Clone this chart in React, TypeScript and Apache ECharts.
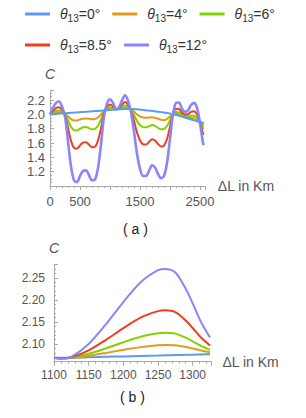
import React, { useEffect, useRef } from "react";
import * as echarts from "echarts";

const seriesNames = ["θ13=0°", "θ13=4°", "θ13=6°", "θ13=8.5°", "θ13=12°"];
const seriesColors = ["#5b9cf0", "#e39a1a", "#7fd400", "#f23c1e", "#8b84fa"];

// panel (a): ΔL in km
const distA = [0, 50, 100, 150, 200, 250, 300, 350, 400, 450, 500, 550, 600, 650, 700, 750, 800, 850, 900, 950, 1000, 1050, 1100, 1150, 1200, 1250, 1300, 1350, 1400, 1450, 1500, 1550, 1600, 1650, 1700, 1750, 1800, 1850, 1900, 1950, 2000, 2050, 2100, 2150, 2200, 2250, 2300, 2350, 2400, 2450, 2500, 2550, 2565];
const blueA = [2.0, 2.003, 2.006, 2.009, 2.012, 2.015, 2.018, 2.021, 2.024, 2.027, 2.03, 2.033, 2.036, 2.039, 2.042, 2.045, 2.048, 2.051, 2.054, 2.057, 2.06, 2.064, 2.068, 2.07, 2.072, 2.074, 2.076, 2.076, 2.074, 2.07, 2.066, 2.062, 2.057, 2.052, 2.047, 2.042, 2.037, 2.031, 2.025, 2.018, 2.01, 2.0, 1.99, 1.98, 1.968, 1.955, 1.942, 1.929, 1.916, 1.903, 1.892, 1.882, 1.879];
const orangeA = [2.0, 2.013, 2.024, 2.029, 2.023, 2.01, 1.972, 1.933, 1.915, 1.915, 1.928, 1.938, 1.942, 1.937, 1.931, 1.935, 1.956, 1.997, 2.044, 2.068, 2.077, 2.075, 2.069, 2.074, 2.087, 2.097, 2.09, 2.071, 2.038, 1.999, 1.971, 1.956, 1.951, 1.955, 1.96, 1.952, 1.938, 1.925, 1.919, 1.938, 1.968, 2.0, 2.01, 2.001, 1.981, 1.964, 1.955, 1.952, 1.944, 1.924, 1.891, 1.85, 1.843];
const greenA = [2.0, 2.026, 2.046, 2.053, 2.037, 2.003, 1.915, 1.826, 1.779, 1.774, 1.799, 1.819, 1.824, 1.808, 1.792, 1.797, 1.841, 1.929, 2.032, 2.081, 2.099, 2.089, 2.07, 2.078, 2.104, 2.124, 2.106, 2.064, 1.992, 1.909, 1.851, 1.822, 1.819, 1.833, 1.85, 1.839, 1.812, 1.792, 1.795, 1.837, 1.919, 2.0, 2.034, 2.028, 1.997, 1.976, 1.971, 1.981, 1.979, 1.952, 1.889, 1.809, 1.799];
const redA = [2.0, 2.048, 2.086, 2.098, 2.063, 1.992, 1.811, 1.63, 1.533, 1.522, 1.567, 1.605, 1.612, 1.577, 1.542, 1.548, 1.633, 1.806, 2.01, 2.105, 2.138, 2.114, 2.072, 2.086, 2.136, 2.174, 2.136, 2.052, 1.911, 1.748, 1.636, 1.583, 1.58, 1.614, 1.653, 1.635, 1.586, 1.552, 1.565, 1.655, 1.828, 2.0, 2.078, 2.076, 2.026, 1.997, 2.001, 2.034, 2.043, 2.0, 1.886, 1.735, 1.718];
const purpleA = [2.0, 2.09, 2.16, 2.18, 2.11, 1.97, 1.62, 1.27, 1.08, 1.055, 1.14, 1.21, 1.22, 1.15, 1.08, 1.09, 1.25, 1.58, 1.97, 2.15, 2.21, 2.16, 2.075, 2.1, 2.195, 2.267, 2.192, 2.03, 1.76, 1.45, 1.24, 1.14, 1.14, 1.21, 1.29, 1.26, 1.17, 1.11, 1.14, 1.32, 1.66, 2.0, 2.16, 2.165, 2.08, 2.035, 2.055, 2.13, 2.16, 2.09, 1.88, 1.6, 1.57];

// panel (b): zoom 1100–1325 km
const distB = [1100, 1110, 1125, 1150, 1175, 1200, 1225, 1250, 1260, 1275, 1290, 1300, 1312, 1325];
const blueB = [2.069, 2.069, 2.069, 2.07, 2.071, 2.072, 2.073, 2.074, 2.0745, 2.075, 2.0755, 2.076, 2.0765, 2.077];
const orangeB = [2.069, 2.0686, 2.0692, 2.0736, 2.0799, 2.0868, 2.093, 2.0972, 2.098, 2.0974, 2.0934, 2.0899, 2.0853, 2.0816];
const greenB = [2.069, 2.0682, 2.0695, 2.0778, 2.0902, 2.104, 2.1164, 2.1242, 2.1253, 2.1236, 2.1144, 2.1062, 2.0956, 2.0869];
const redB = [2.069, 2.0674, 2.07, 2.0856, 2.1095, 2.136, 2.1598, 2.1744, 2.1762, 2.1722, 2.1532, 2.1363, 2.1147, 2.0968];
const purpleB = [2.069, 2.066, 2.071, 2.1, 2.145, 2.195, 2.24, 2.267, 2.27, 2.262, 2.225, 2.192, 2.15, 2.115];

const valuesA = [blueA, orangeA, greenA, redA, purpleA];
const valuesB = [blueB, orangeB, greenB, redB, purpleB];

const FONT = "Liberation Sans";
const AXIS_COLOR = "#a8a8a8";
const LABEL_COLOR = "#555555";

const zip = (xs: number[], ys: number[]) => xs.map((x, i) => [x, ys[i]]);

const legendFormatter = (name: string) => {
  const rest = name.replace("θ13", "");
  return `{i|θ}{s|13}{n|${rest}}`;
};

const legendRich = {
  i: { fontStyle: "italic", fontSize: 14, fontFamily: FONT, color: "#333", padding: [0, 0, 0, 5] },
  s: { fontSize: 10, fontFamily: FONT, color: "#333", padding: [8, 0, 0, 0] },
  n: { fontSize: 14, fontFamily: FONT, color: "#333" },
};

export default function App() {
  const ref = useRef<HTMLDivElement>(null);

  useEffect(() => {
    if (!ref.current) return;
    const chart = echarts.init(ref.current, undefined, { renderer: "svg" });

    const seriesA = valuesA.map((vals, i) => ({
      name: seriesNames[i],
      type: "line",
      xAxisIndex: 0,
      yAxisIndex: 0,
      data: zip(distA, vals),
      showSymbol: false,
      smooth: 0.3,
      lineStyle: { color: seriesColors[i], width: i === 4 ? 2.6 : 2 },
      itemStyle: { color: seriesColors[i] },
      z: 2 + (i === 0 ? 5 : i),
    }));
    const seriesB = valuesB.map((vals, i) => ({
      name: seriesNames[i],
      type: "line",
      xAxisIndex: 1,
      yAxisIndex: 1,
      data: zip(distB, vals),
      showSymbol: false,
      smooth: 0.3,
      lineStyle: { color: seriesColors[i], width: 2 },
      itemStyle: { color: seriesColors[i] },
      z: 2 + i,
    }));

    const commonAxisLine = { show: true, lineStyle: { color: AXIS_COLOR, width: 1 } };

    chart.setOption({
      animation: false,
      textStyle: { fontFamily: FONT },
      legend: [
        {
          data: seriesNames.slice(0, 3),
          left: 20,
          top: 2,
          itemWidth: 25,
          itemHeight: 3,
          itemGap: 12,
          icon: "rect",
          formatter: legendFormatter,
          textStyle: { rich: legendRich },
          selectedMode: false,
        },
        {
          data: seriesNames.slice(3),
          left: 20,
          top: 33,
          itemWidth: 25,
          itemHeight: 3,
          itemGap: 12,
          icon: "rect",
          formatter: legendFormatter,
          textStyle: { rich: legendRich },
          selectedMode: false,
        },
      ],
      grid: [
        { left: 50, top: 90.7, width: 154.8, height: 95.3 },
        { left: 54, top: 264.5, width: 157.4, height: 97.2 },
      ],
      xAxis: [
        {
          gridIndex: 0,
          type: "value",
          min: 0,
          max: 2580,
          interval: 500,
          name: "ΔL in Km",
          nameLocation: "end",
          nameGap: 13,
          nameTextStyle: { color: LABEL_COLOR, fontSize: 14, fontFamily: FONT },
          axisLine: commonAxisLine,
          axisTick: { show: true, length: 4, lineStyle: { color: AXIS_COLOR } },
          minorTick: { show: true, splitNumber: 5, length: 2, lineStyle: { color: AXIS_COLOR } },
          splitLine: { show: false },
          axisLabel: {
            color: LABEL_COLOR,
            fontSize: 13,
            margin: 9,
            formatter: (v: number) => (v % 500 === 0 && v !== 1000 && v !== 2000 ? String(v) : ""),
          },
        },
        {
          gridIndex: 1,
          type: "value",
          min: 1100,
          max: 1327,
          interval: 50,
          name: "ΔL in Km",
          nameLocation: "end",
          nameGap: 11,
          nameTextStyle: { color: LABEL_COLOR, fontSize: 14, fontFamily: FONT },
          axisLine: commonAxisLine,
          axisTick: { show: true, length: 4, lineStyle: { color: AXIS_COLOR } },
          minorTick: { show: true, splitNumber: 5, length: 2, lineStyle: { color: AXIS_COLOR } },
          splitLine: { show: false },
          axisLabel: {
            color: LABEL_COLOR,
            fontSize: 12,
            margin: 7,
            formatter: (v: number) => (v % 50 === 0 ? String(v) : ""),
          },
        },
      ],
      yAxis: [
        {
          gridIndex: 0,
          type: "value",
          min: 1.0,
          max: 2.33,
          interval: 0.2,
          name: "C",
          nameLocation: "end",
          nameGap: 10,
          nameTextStyle: { color: LABEL_COLOR, fontSize: 14, fontStyle: "italic", fontFamily: FONT, align: "center" },
          axisLine: commonAxisLine,
          axisTick: { show: true, inside: true, length: 4, lineStyle: { color: AXIS_COLOR } },
          minorTick: { show: true, splitNumber: 4, length: 2, lineStyle: { color: AXIS_COLOR } },
          splitLine: { show: false },
          axisLabel: {
            color: LABEL_COLOR,
            fontSize: 13,
            margin: 5,
            formatter: (v: number) => {
              const r = Math.round(v * 10) / 10;
              if (Math.abs(v - r) > 1e-6 || r < 1.1 || r > 2.3) return "";
              return r.toFixed(1);
            },
          },
        },
        {
          gridIndex: 1,
          type: "value",
          min: 2.06,
          max: 2.28,
          splitNumber: 4,
          name: "C",
          nameLocation: "end",
          nameGap: 10,
          nameTextStyle: { color: LABEL_COLOR, fontSize: 14, fontStyle: "italic", fontFamily: FONT, align: "center" },
          axisLine: commonAxisLine,
          axisTick: { show: true, inside: true, length: 4, lineStyle: { color: AXIS_COLOR } },
          minorTick: { show: true, splitNumber: 5, length: 2, lineStyle: { color: AXIS_COLOR } },
          splitLine: { show: false },
          axisLabel: {
            color: LABEL_COLOR,
            fontSize: 12,
            margin: 9,
            formatter: (v: number) => {
              const r = Math.round(v * 20) / 20;
              if (Math.abs(v - r) > 1e-6) return "";
              return r.toFixed(2);
            },
          },
        },
      ],
      graphic: [
        {
          type: "text",
          left: 123,
          top: 222,
          style: { text: "( a )", fontSize: 14, fontFamily: FONT, fill: "#222" },
        },
        {
          type: "text",
          left: 120,
          top: 390,
          style: { text: "( b )", fontSize: 14, fontFamily: FONT, fill: "#222" },
        },
      ],
      series: [...seriesA, ...seriesB],
    });

    return () => chart.dispose();
  }, []);

  return <div ref={ref} style={{ width: 306, height: 418, position: "absolute", left: 0, top: 0 }} />;
}
